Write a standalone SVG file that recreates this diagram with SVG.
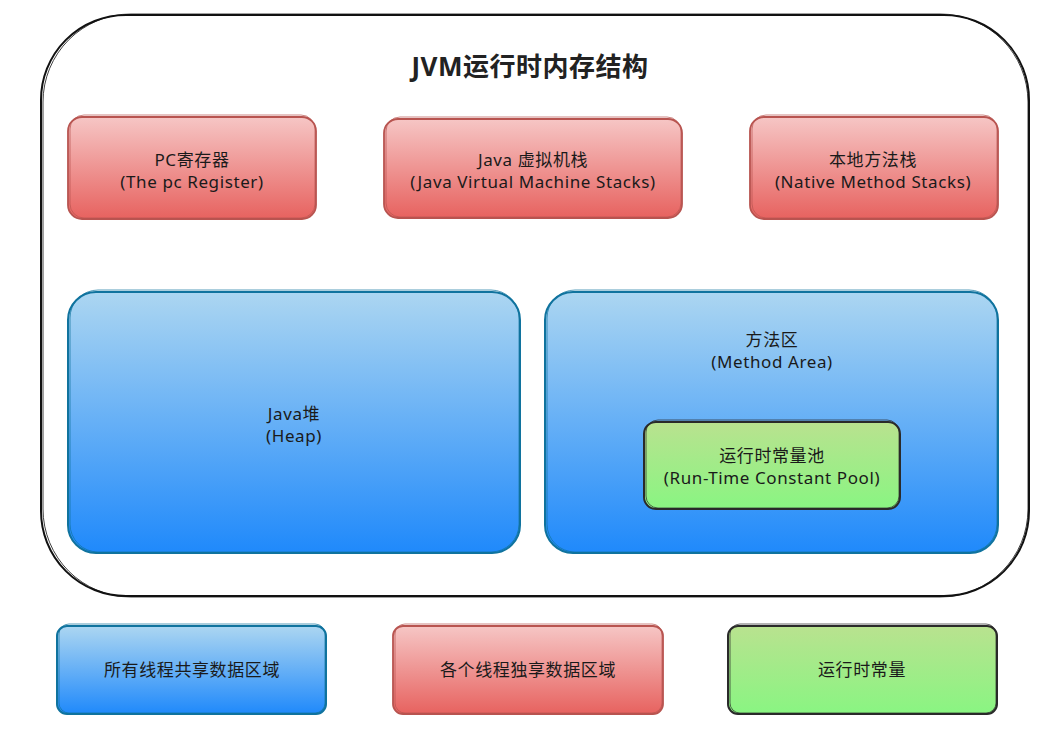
<svg xmlns="http://www.w3.org/2000/svg" width="1064" height="740" viewBox="0 0 1064 740">
<defs>
<linearGradient id="gr" x1="0" y1="0" x2="0" y2="1"><stop offset="0" stop-color="#f6c6c5"/><stop offset="1" stop-color="#e7625f"/></linearGradient>
<linearGradient id="gb" x1="0" y1="0" x2="0" y2="1"><stop offset="0" stop-color="#acd6f1"/><stop offset="1" stop-color="#1f89fb"/></linearGradient>
<linearGradient id="gg" x1="0" y1="0" x2="0" y2="1"><stop offset="0" stop-color="#b9e28f"/><stop offset="1" stop-color="#89f582"/></linearGradient>
</defs>
<style>
.t{font-family:"Noto Sans","Noto Sans CJK SC",sans-serif;font-size:17px;letter-spacing:0.6px;fill:#1a1a1a;text-anchor:middle}
.title{font-family:"Noto Sans","Noto Sans CJK SC",sans-serif;font-size:26px;letter-spacing:0.5px;font-weight:bold;fill:#222;text-anchor:middle}
.red{fill:url(#gr);stroke:#b85450;stroke-width:1.8}
.blue{fill:url(#gb);stroke:#10739e;stroke-width:2}
.green{fill:url(#gg);stroke:#2a2a2a;stroke-width:2}
.sk{fill:none;stroke-width:1;opacity:0.7}
</style>
<g id="container">
<rect x="41" y="15" width="988" height="581" rx="85" ry="85" fill="#fff" stroke="#111" stroke-width="2"/>
<rect x="43" y="14" width="985" height="583" rx="88" ry="88" fill="none" stroke="#111" stroke-width="0.8"/>
<text class="title" x="530" y="76">JVM运行时内存结构</text>
</g>
<g id="pc">
<rect class="red" x="68" y="117" width="248" height="102" rx="14"/>
<rect class="sk" x="70" y="115" width="245" height="103" rx="14" stroke="#b85450"/>
<text class="t" x="192" y="166">PC寄存器</text>
<text class="t" x="192" y="188">(The pc Register)</text>
</g>
<g id="jvmstack">
<rect class="red" x="384" y="119" width="298" height="99" rx="14"/>
<rect class="sk" x="386" y="117" width="295" height="100" rx="14" stroke="#b85450"/>
<text class="t" x="533" y="166">Java 虚拟机栈</text>
<text class="t" x="533" y="188">(Java Virtual Machine Stacks)</text>
</g>
<g id="native">
<rect class="red" x="750" y="117" width="248" height="102" rx="14"/>
<rect class="sk" x="752" y="115" width="245" height="103" rx="14" stroke="#b85450"/>
<text class="t" x="873" y="166">本地方法栈</text>
<text class="t" x="873" y="188">(Native Method Stacks)</text>
</g>
<g id="heap">
<rect class="blue" x="68" y="292" width="452" height="261" rx="28"/>
<rect class="sk" x="70" y="290" width="449" height="262" rx="28" stroke="#10739e"/>
<text class="t" x="294" y="420">Java堆</text>
<text class="t" x="294" y="442">(Heap)</text>
</g>
<g id="method">
<rect class="blue" x="545" y="292" width="453" height="261" rx="28"/>
<rect class="sk" x="547" y="290" width="450" height="262" rx="28" stroke="#10739e"/>
<text class="t" x="772" y="346">方法区</text>
<text class="t" x="772" y="368">(Method Area)</text>
</g>
<g id="pool">
<rect class="green" x="644" y="422" width="256" height="87" rx="12"/>
<rect class="sk" x="646" y="420" width="253" height="88" rx="12" stroke="#2a2a2a"/>
<text class="t" x="772" y="462">运行时常量池</text>
<text class="t" x="772" y="484">(Run-Time Constant Pool)</text>
</g>
<g id="legend-shared">
<rect class="blue" x="57" y="626" width="269" height="88" rx="10"/>
<rect class="sk" x="59" y="624" width="266" height="89" rx="10" stroke="#10739e"/>
<text class="t" x="192" y="676">所有线程共享数据区域</text>
</g>
<g id="legend-private">
<rect class="red" x="393" y="626" width="270" height="88" rx="10"/>
<rect class="sk" x="395" y="624" width="267" height="89" rx="10" stroke="#b85450"/>
<text class="t" x="528" y="676">各个线程独享数据区域</text>
</g>
<g id="legend-const">
<rect class="green" x="728" y="626" width="269" height="88" rx="10"/>
<rect class="sk" x="730" y="624" width="266" height="89" rx="10" stroke="#2a2a2a"/>
<text class="t" x="862" y="676">运行时常量</text>
</g>
<g id="connectors"></g>
</svg>
